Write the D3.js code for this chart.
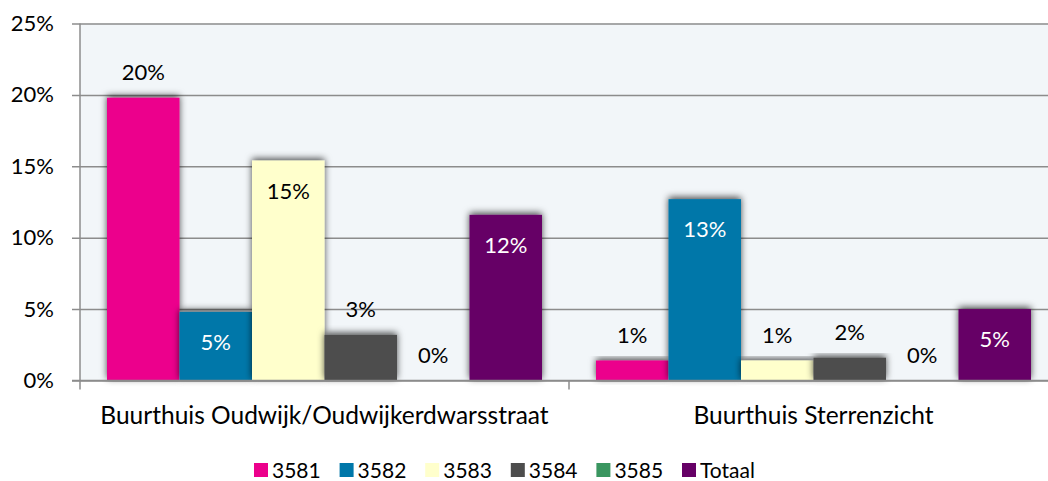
<!DOCTYPE html>
<html>
<head>
<meta charset="utf-8">
<script src="https://cdn.jsdelivr.net/npm/d3@7"></script>
<style>
  body { margin: 0; background: #fff; }
  svg text { font-family: Lato, "Open Sans", sans-serif; fill: #000; }
</style>
</head>
<body>
<div id="chart"></div>
<script>
// data
var categories = ["Buurthuis Oudwijk/Oudwijkerdwarsstraat", "Buurthuis Sterrenzicht"]
var seriesNames = ["3581", "3582", "3583", "3584", "3585", "Totaal"]
var v3581 = [19.8, 1.4]
var v3582 = [4.8, 12.7]
var v3583 = [15.4, 1.4]
var v3584 = [3.2, 1.6]
var v3585 = [0, 0]
var vTotaal = [11.6, 5.0]
var yTicks = [0, 5, 10, 15, 20, 25]

var seriesValues = [v3581, v3582, v3583, v3584, v3585, vTotaal]
var colors = ["#ec008c", "#0077a9", "#ffffcc", "#4d4d4d", "#3a9660", "#660066"]
var labelColors = ["#000", "#fff", "#000", "#000", "#000", "#fff"]
// series whose labels always sit above the bar
var alwaysOutside = ["3581", "3584"]

var width = 1048, height = 481
var svg = d3.select("#chart").append("svg")
  .attr("width", width)
  .attr("height", height)

var defs = svg.append("defs")
var f = defs.append("filter").attr("id", "shadow")
  .attr("x", "-20%").attr("y", "-20%").attr("width", "140%").attr("height", "140%")
f.append("feDropShadow")
  .attr("dx", 0).attr("dy", -2)
  .attr("stdDeviation", 3.5)
  .attr("flood-color", "#000")
  .attr("flood-opacity", 0.7)

var pLeft = 80, pRight = 1058, pTop = 23.5, pBottom = 380.5

var y = d3.scaleLinear().domain([0, 25]).range([pBottom, pTop])
var x0 = d3.scaleBand().domain(categories).range([pLeft, pRight]).padding(0)
var x1 = d3.scaleBand().domain(seriesNames)
  .range([27, x0.bandwidth() - 27]).padding(0)

// plot background
svg.append("rect")
  .attr("x", pLeft).attr("y", pTop)
  .attr("width", pRight - pLeft).attr("height", pBottom - pTop)
  .attr("fill", "#f2f6f9")

// gridlines + y axis
var yAxis = svg.append("g")
  .attr("transform", "translate(" + pLeft + ",0)")
  .call(d3.axisLeft(y).tickValues(yTicks).tickSize(-(pRight - pLeft)).tickFormat(function(d) { return d + "%" }))
yAxis.select(".domain").remove()
yAxis.selectAll(".tick line")
  .attr("x1", -8)
  .attr("stroke", "#8c8c8c")
  .attr("stroke-width", 1.5)
yAxis.selectAll(".tick text")
  .attr("x", -26)
  .style("font-size", "22px")

svg.append("line")
  .attr("x1", pLeft).attr("x2", pLeft)
  .attr("y1", pTop).attr("y2", pBottom + 9)
  .attr("stroke", "#8c8c8c").attr("stroke-width", 1.5)

// bars
var groups = svg.selectAll(".grp")
  .data(categories)
  .enter().append("g")
  .attr("class", "grp")
  .attr("transform", function(d) { return "translate(" + x0(d) + ",0)" })

function isInside(d) { return alwaysOutside.indexOf(d.s) < 0 && d.v > 3 }

groups.each(function(cat, ci) {
  var g = d3.select(this)
  var rows = seriesNames.map(function(s, si) { return { s: s, si: si, v: seriesValues[si][ci] } })
  g.selectAll("rect")
    .data(rows.filter(function(d) { return d.v > 0 }))
    .enter().append("rect")
    .attr("x", function(d) { return x1(d.s) })
    .attr("y", function(d) { return y(d.v) })
    .attr("width", x1.bandwidth())
    .attr("height", function(d) { return y(0) - y(d.v) })
    .attr("fill", function(d) { return colors[d.si] })
    .attr("filter", "url(#shadow)")
  g.selectAll("text")
    .data(rows)
    .enter().append("text")
    .attr("x", function(d) { return x1(d.s) + x1.bandwidth() / 2 })
    .attr("y", function(d) { return isInside(d) ? y(d.v) + 38 : y(d.v) - 18 })
    .attr("text-anchor", "middle")
    .style("font-size", "22px")
    .style("fill", function(d) { return isInside(d) ? labelColors[d.si] : "#000" })
    .text(function(d) { return Math.round(d.v) + "%" })
})

// x axis line and category ticks
svg.append("line")
  .attr("x1", pLeft - 8).attr("x2", pRight)
  .attr("y1", pBottom).attr("y2", pBottom)
  .attr("stroke", "#8c8c8c").attr("stroke-width", 1.5)
var xAxis = svg.append("g")
  .attr("transform", "translate(0," + pBottom + ")")
  .call(d3.axisBottom(x0).tickSize(0).tickPadding(26))
xAxis.select(".domain").remove()
xAxis.selectAll(".tick text").style("font-size", "24.5px")
svg.selectAll(".sep")
  .data(categories.slice(1))
  .enter().append("line")
  .attr("x1", function(d) { return x0(d) }).attr("x2", function(d) { return x0(d) })
  .attr("y1", pBottom).attr("y2", pBottom + 9)
  .attr("stroke", "#8c8c8c").attr("stroke-width", 1.5)

// legend
var legend = svg.append("g").attr("transform", "translate(254,463)")
var item = legend.selectAll("g")
  .data(seriesNames)
  .enter().append("g")
  .attr("transform", function(d, i) { return "translate(" + (i * 85.6) + ",0)" })
item.append("rect")
  .attr("width", 14).attr("height", 14)
  .attr("fill", function(d, i) { return colors[i] })
item.append("text")
  .attr("x", 18).attr("y", 14.5)
  .style("font-size", "21px")
  .text(function(d) { return d })
</script>
</body>
</html>
